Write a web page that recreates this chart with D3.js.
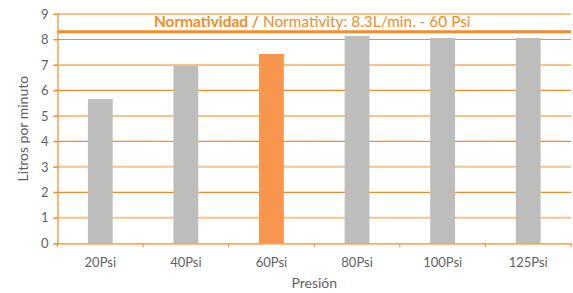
<html><head>
<script src="https://d3js.org/d3.v7.min.js"></script>
<style>
  body { margin: 0; background: #fff; }
  text { font-family: Lato, "Open Sans", sans-serif; }
  .tick text { fill: #5f5f5f; font-size: 13px; }
</style>
</head>
<body>
<svg id="graph" width="573" height="293"></svg>
<script>

// data
const categories = ["20Psi", "40Psi", "60Psi", "80Psi", "100Psi", "125Psi"];
const litros = [5.66, 6.97, 7.43, 8.14, 8.06, 8.06];
const highlight = ["60Psi"];
const normaValue = 8.3;
const yTicks = [0, 1, 2, 3, 4, 5, 6, 7, 8, 9];

const svg = d3.select("#graph");
const margin = {top: 14, right: 2, bottom: 50, left: 57.5};
const width = +svg.attr("width");
const height = +svg.attr("height");

const x = d3.scaleBand().domain(categories)
            .range([margin.left, width - margin.right])
            .paddingInner(0.71).paddingOuter(0.355);
// band used only for the tick marks at band edges
const xEdges = d3.scaleBand().domain(categories).range([margin.left, width - margin.right]);
const y = d3.scaleLinear().domain([0, 9]).range([height - margin.bottom + 0.3, margin.top]);

const orange = "#f28c2c";
const orangeLight = "#f8c28c";

// gridlines
const grid = svg.append("g");
grid.selectAll("line").data(yTicks.filter(d => d > 0))
  .join("line")
    .attr("x1", margin.left - 4).attr("x2", width - margin.right)
    .attr("y1", d => y(d)).attr("y2", d => y(d))
    .attr("stroke", d => d % 2 === 0 ? orange : orangeLight)
    .attr("stroke-width", d => d % 2 === 0 ? 1.2 : 2);

// y axis
const yAxis = svg.append("g")
  .attr("transform", `translate(${margin.left},0)`)
  .call(d3.axisLeft(y).tickValues(yTicks).tickSize(4).tickPadding(5));
yAxis.select(".domain").attr("stroke", orange).attr("stroke-width", 1.2);
yAxis.selectAll(".tick line").attr("stroke", orange);
yAxis.selectAll(".tick text").attr("font-size", 14);

// bars
svg.append("g").selectAll("rect").data(categories)
  .join("rect")
    .attr("x", d => x(d))
    .attr("width", x.bandwidth())
    .attr("y", (d, i) => y(litros[i]))
    .attr("height", (d, i) => y(0) - y(litros[i]))
    .attr("fill", d => highlight.includes(d) ? "#f7964c" : "#bdbdbb");

// x axis
const xAxis = svg.append("g")
  .attr("transform", `translate(0,${y(0)})`)
  .call(d3.axisBottom(xEdges).tickSize(0).tickPadding(14));
xAxis.select(".domain").attr("stroke", orange).attr("stroke-width", 1.2);
xAxis.selectAll(".tick text").attr("font-size", 13.5);
svg.append("g").selectAll("line").data(categories.concat(["end"]))
  .join("line")
    .attr("x1", (d, i) => i < categories.length ? xEdges(d) : width - margin.right)
    .attr("x2", (d, i) => i < categories.length ? xEdges(d) : width - margin.right)
    .attr("y1", y(0)).attr("y2", y(0) + 4)
    .attr("stroke", orange);

// normativity line + label
svg.append("line")
  .attr("x1", margin.left).attr("x2", width - margin.right)
  .attr("y1", y(normaValue)).attr("y2", y(normaValue))
  .attr("stroke", orange).attr("stroke-width", 3);

const lbl = svg.append("text")
  .attr("x", 154).attr("y", y(normaValue) - 5)
  .attr("fill", orange).attr("font-size", 15.4);
lbl.append("tspan").attr("font-weight", 700).text("Normatividad /");
lbl.append("tspan").text(" Normativity: 8.3L/min. - 60 Psi");

// axis titles
svg.append("text")
  .attr("transform", `translate(28,${(y(0) + y(9)) / 2}) rotate(-90)`)
  .attr("text-anchor", "middle").attr("fill", "#5f5f5f").attr("font-size", 14)
  .text("Litros por minuto");

svg.append("text")
  .attr("x", (margin.left + width - margin.right) / 2).attr("y", 288)
  .attr("text-anchor", "middle").attr("fill", "#5f5f5f").attr("font-size", 14)
  .text("Presión");

</script>
</body>
</html>
